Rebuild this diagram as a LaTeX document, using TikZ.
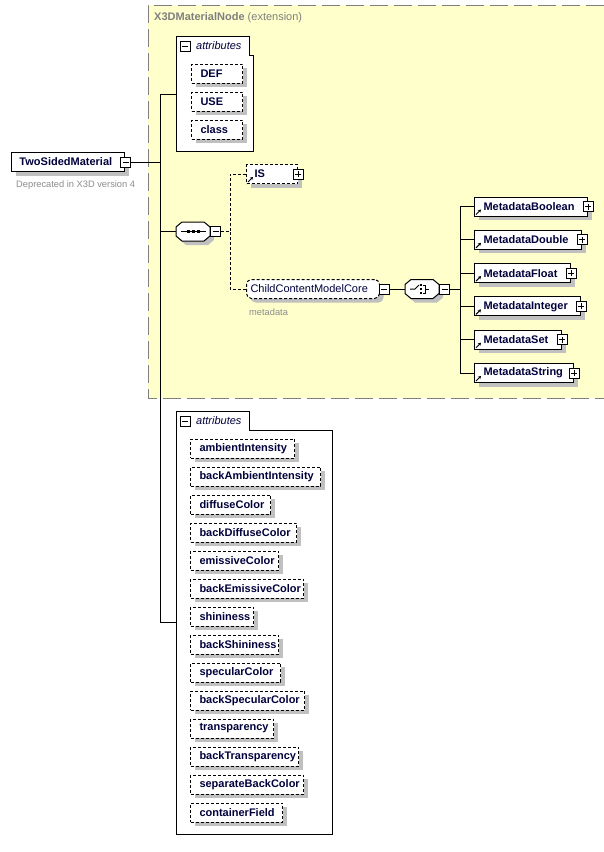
\documentclass[tikz,border=0pt]{standalone}
\usepackage{fontspec}
\setmainfont{Liberation Sans}
\usetikzlibrary{shadows,arrows.meta}
\definecolor{ylw}{HTML}{FFFFCC}
\definecolor{shd}{HTML}{C0C0C0}
\definecolor{nm}{HTML}{00003C}
\definecolor{gtx}{HTML}{8C8C8C}
\definecolor{gbd}{HTML}{7F7F7F}
\begin{document}
\begin{tikzpicture}[x=1pt,y=-1pt,
  namefont/.style={font=\fontsize{11}{13}\selectfont\bfseries, text=nm},
  elem/.style={draw=black, line width=1pt, fill=white, anchor=west,
    minimum height=19pt, inner xsep=0pt, inner ysep=0pt,
    text width=#1pt, align=left, namefont,
    general shadow={fill=shd, shadow xshift=4pt, shadow yshift=-4pt}},
  attrbox/.style={elem=#1, dash pattern=on 3pt off 2pt},
  pmbox/.style={draw=black, line width=0.8pt, fill=white, minimum size=10pt, inner sep=0pt},
  minus/.style={pmbox, path picture={\draw[line width=0.8pt]
      ([xshift=2pt]path picture bounding box.west) -- ([xshift=-2pt]path picture bounding box.east);}},
  plus/.style={pmbox, path picture={\draw[line width=0.8pt]
      ([xshift=2pt]path picture bounding box.west) -- ([xshift=-2pt]path picture bounding box.east)
      ([yshift=2pt]path picture bounding box.south) -- ([yshift=-2pt]path picture bounding box.north);}},
  conn/.style={line width=1pt},
  dconn/.style={line width=1pt, dash pattern=on 3pt off 2pt},
  refarrow/.style={line width=1pt, -{Stealth[length=3pt,width=3.5pt]}},
  graytext/.style={font=\fontsize{9.3}{11}\selectfont, text=gtx, anchor=west, inner sep=0pt},
  attrhead/.style={font=\fontsize{11}{13}\selectfont\itshape, text=nm, anchor=west, inner sep=0pt},
  anchorbox/.style={inner sep=0pt, minimum width=34pt, minimum height=19pt}
]
\useasboundingbox (0,0) rectangle (604,852);
\fill[white] (0,0) rectangle (604,852);

% extension region
\fill[ylw] (148,5) rectangle (604,398);
\draw[gbd, line width=1pt, dash pattern=on 18pt off 6pt] (604,5) -- (148,5) -- (148,398) -- (604,398);
\node[anchor=west, inner sep=0pt, font=\fontsize{11}{13}\selectfont, text=gbd] (title) at (154,18) {\textbf{X3DMaterialNode} (extension)};

% root element
\node[elem=113] (tsm) at (11,162) {\hspace*{8pt}TwoSidedMaterial};
\node[minus] (tsmm) at (125.5,162) {};
\node[graytext] (depr) at (16,185) {Deprecated in X3D version 4};

% attributes box 1
\filldraw[fill=white, line width=1pt] (176,36) -- (249,36) -- (249,55) -- (253,55) -- (253,151) -- (176,151) -- cycle;
\node[minus] (a1m) at (185,46) {};
\node[attrhead] (a1t) at (196,46) {attributes};
\coordinate (a1in) at (176,94.5);
\node[attrbox=51] (def) at (191,73.5) {\hspace*{9pt}DEF};
\node[attrbox=51] (use) at (191,101.5) {\hspace*{9pt}USE};
\node[attrbox=51] (cls) at (191,129.5) {\hspace*{9pt}class};

% main bus
\coordinate (busT) at (160,94.5);
\coordinate (busB) at (160,622);
\coordinate (a2in) at (176,622);
\draw[conn] (tsmm.east) -- (tsmm.east -| busT);
\draw[conn] (busT) -- (busB);
\draw[conn] (busT) -- (a1in);
\draw[conn] (busB) -- (a2in);

% sequence compositor
\begin{scope}[shift={(193,231.5)}]
  \fill[shd, shift={(4,4)}] (-11,-9.5) -- (11,-9.5) -- (17,-4.5) -- (17,4.5) -- (11,9.5) -- (-11,9.5) -- (-17,4.5) -- (-17,-4.5) -- cycle;
  \draw[line width=1pt, fill=white] (-11,-9.5) -- (11,-9.5) -- (17,-4.5) -- (17,4.5) -- (11,9.5) -- (-11,9.5) -- (-17,4.5) -- (-17,-4.5) -- cycle;
  \node[anchorbox] (seq) at (0,0) {};
  \draw[line width=1pt] (-12,0) -- (13,0);
  \fill (-6,-1.5) rectangle ++(3,3);
  \fill (-1,-1.5) rectangle ++(3,3);
  \fill (4,-1.5) rectangle ++(3,3);
\end{scope}
\node[minus] (seqm) at (215.5,231.5) {};
\draw[conn] (seq.west -| busT) -- (seq.west);

% IS and ChildContentModelCore
\node[attrbox=51] (is) at (246,174) {\hspace*{8pt}IS};
\node[plus] (isp) at (is.east) {};
\draw[refarrow] ([shift={(2,-2)}]is.south west) -- ++(5,-5);

\node[draw=black, line width=1pt, fill=white, anchor=west, minimum height=19pt,
  inner xsep=0pt, inner ysep=0pt, text width=133pt, align=left,
  font=\fontsize{11}{13}\selectfont, text=nm, rounded corners=5pt,
  dash pattern=on 3pt off 2pt,
  general shadow={fill=shd, shadow xshift=4pt, shadow yshift=-4pt}] (ccmc) at (246,289) {\hspace*{4pt}ChildContentModelCore};
\node[minus] (ccmcm) at (384,289) {};
\node[graytext] (meta) at (249,312) {metadata};

\coordinate (dv) at (230,231.5);
\draw[dconn] (seqm.east) -- (dv);
\draw[dconn] (is.west) -| (dv);
\draw[dconn] (ccmc.west) -| (dv);

% choice compositor
\begin{scope}[shift={(422,289)}]
  \fill[shd, shift={(4,4)}] (-11,-9.5) -- (11,-9.5) -- (17,-4.5) -- (17,4.5) -- (11,9.5) -- (-11,9.5) -- (-17,4.5) -- (-17,-4.5) -- cycle;
  \draw[line width=1pt, fill=white] (-11,-9.5) -- (11,-9.5) -- (17,-4.5) -- (17,4.5) -- (11,9.5) -- (-11,9.5) -- (-17,4.5) -- (-17,-4.5) -- cycle;
  \node[anchorbox] (cho) at (0,0) {};
  \draw[line width=1pt] (-12,0) -- (-7,0) -- (-3,-4);
  \fill (-2,-5) rectangle ++(2,2);
  \fill (-2,-1) rectangle ++(2,2);
  \fill (-2,3) rectangle ++(2,2);
  \draw[line width=1pt] (1,-4) -- (3.5,-4) -- (3.5,4) -- (1,4) (3.5,0) -- (7,0);
\end{scope}
\node[minus] (chom) at (444.5,289) {};
\draw[conn] (ccmcm.east) -- (cho.west);
\coordinate (cv) at (460,289);
\draw[conn] (chom.east) -- (cv);

% metadata elements
\node[elem=113] (mdb) at (474,206.5) {\hspace*{9pt}MetadataBoolean};
\node[elem=107] (mdd) at (474,239.8) {\hspace*{9pt}MetadataDouble};
\node[elem=96]  (mdf) at (474,273.1) {\hspace*{9pt}MetadataFloat};
\node[elem=106] (mdi) at (474,306.4) {\hspace*{9pt}MetadataInteger};
\node[elem=87]  (mds) at (474,339.7) {\hspace*{9pt}MetadataSet};
\node[elem=99]  (mdt) at (474,373)   {\hspace*{9pt}MetadataString};
\foreach \n in {mdb,mdd,mdf,mdi,mds,mdt}{
  \node[plus] (\n p) at (\n.east) {};
  \draw[refarrow] ([shift={(2,-2)}]\n.south west) -- ++(5,-5);
  \draw[conn] (\n.west) -| (cv);
}

% attributes box 2
\filldraw[fill=white, line width=1pt] (176,411) -- (249,411) -- (249,430) -- (332,430) -- (332,834) -- (176,834) -- cycle;
\node[minus] (a2m) at (185,421) {};
\node[attrhead] (a2t) at (196,421) {attributes};
\foreach \lab/\w [count=\k from 0] in {ambientIntensity/104, backAmbientIntensity/130, diffuseColor/80, backDiffuseColor/106, emissiveColor/88, backEmissiveColor/113, shininess/63, backShininess/88, specularColor/90, backSpecularColor/114, transparency/83, backTransparency/108, separateBackColor/113, containerField/92}{
  \node[attrbox=\w] (at\k) at (190,448.5+28*\k) {\hspace*{9pt}\lab};
}
\end{tikzpicture}
\end{document}
